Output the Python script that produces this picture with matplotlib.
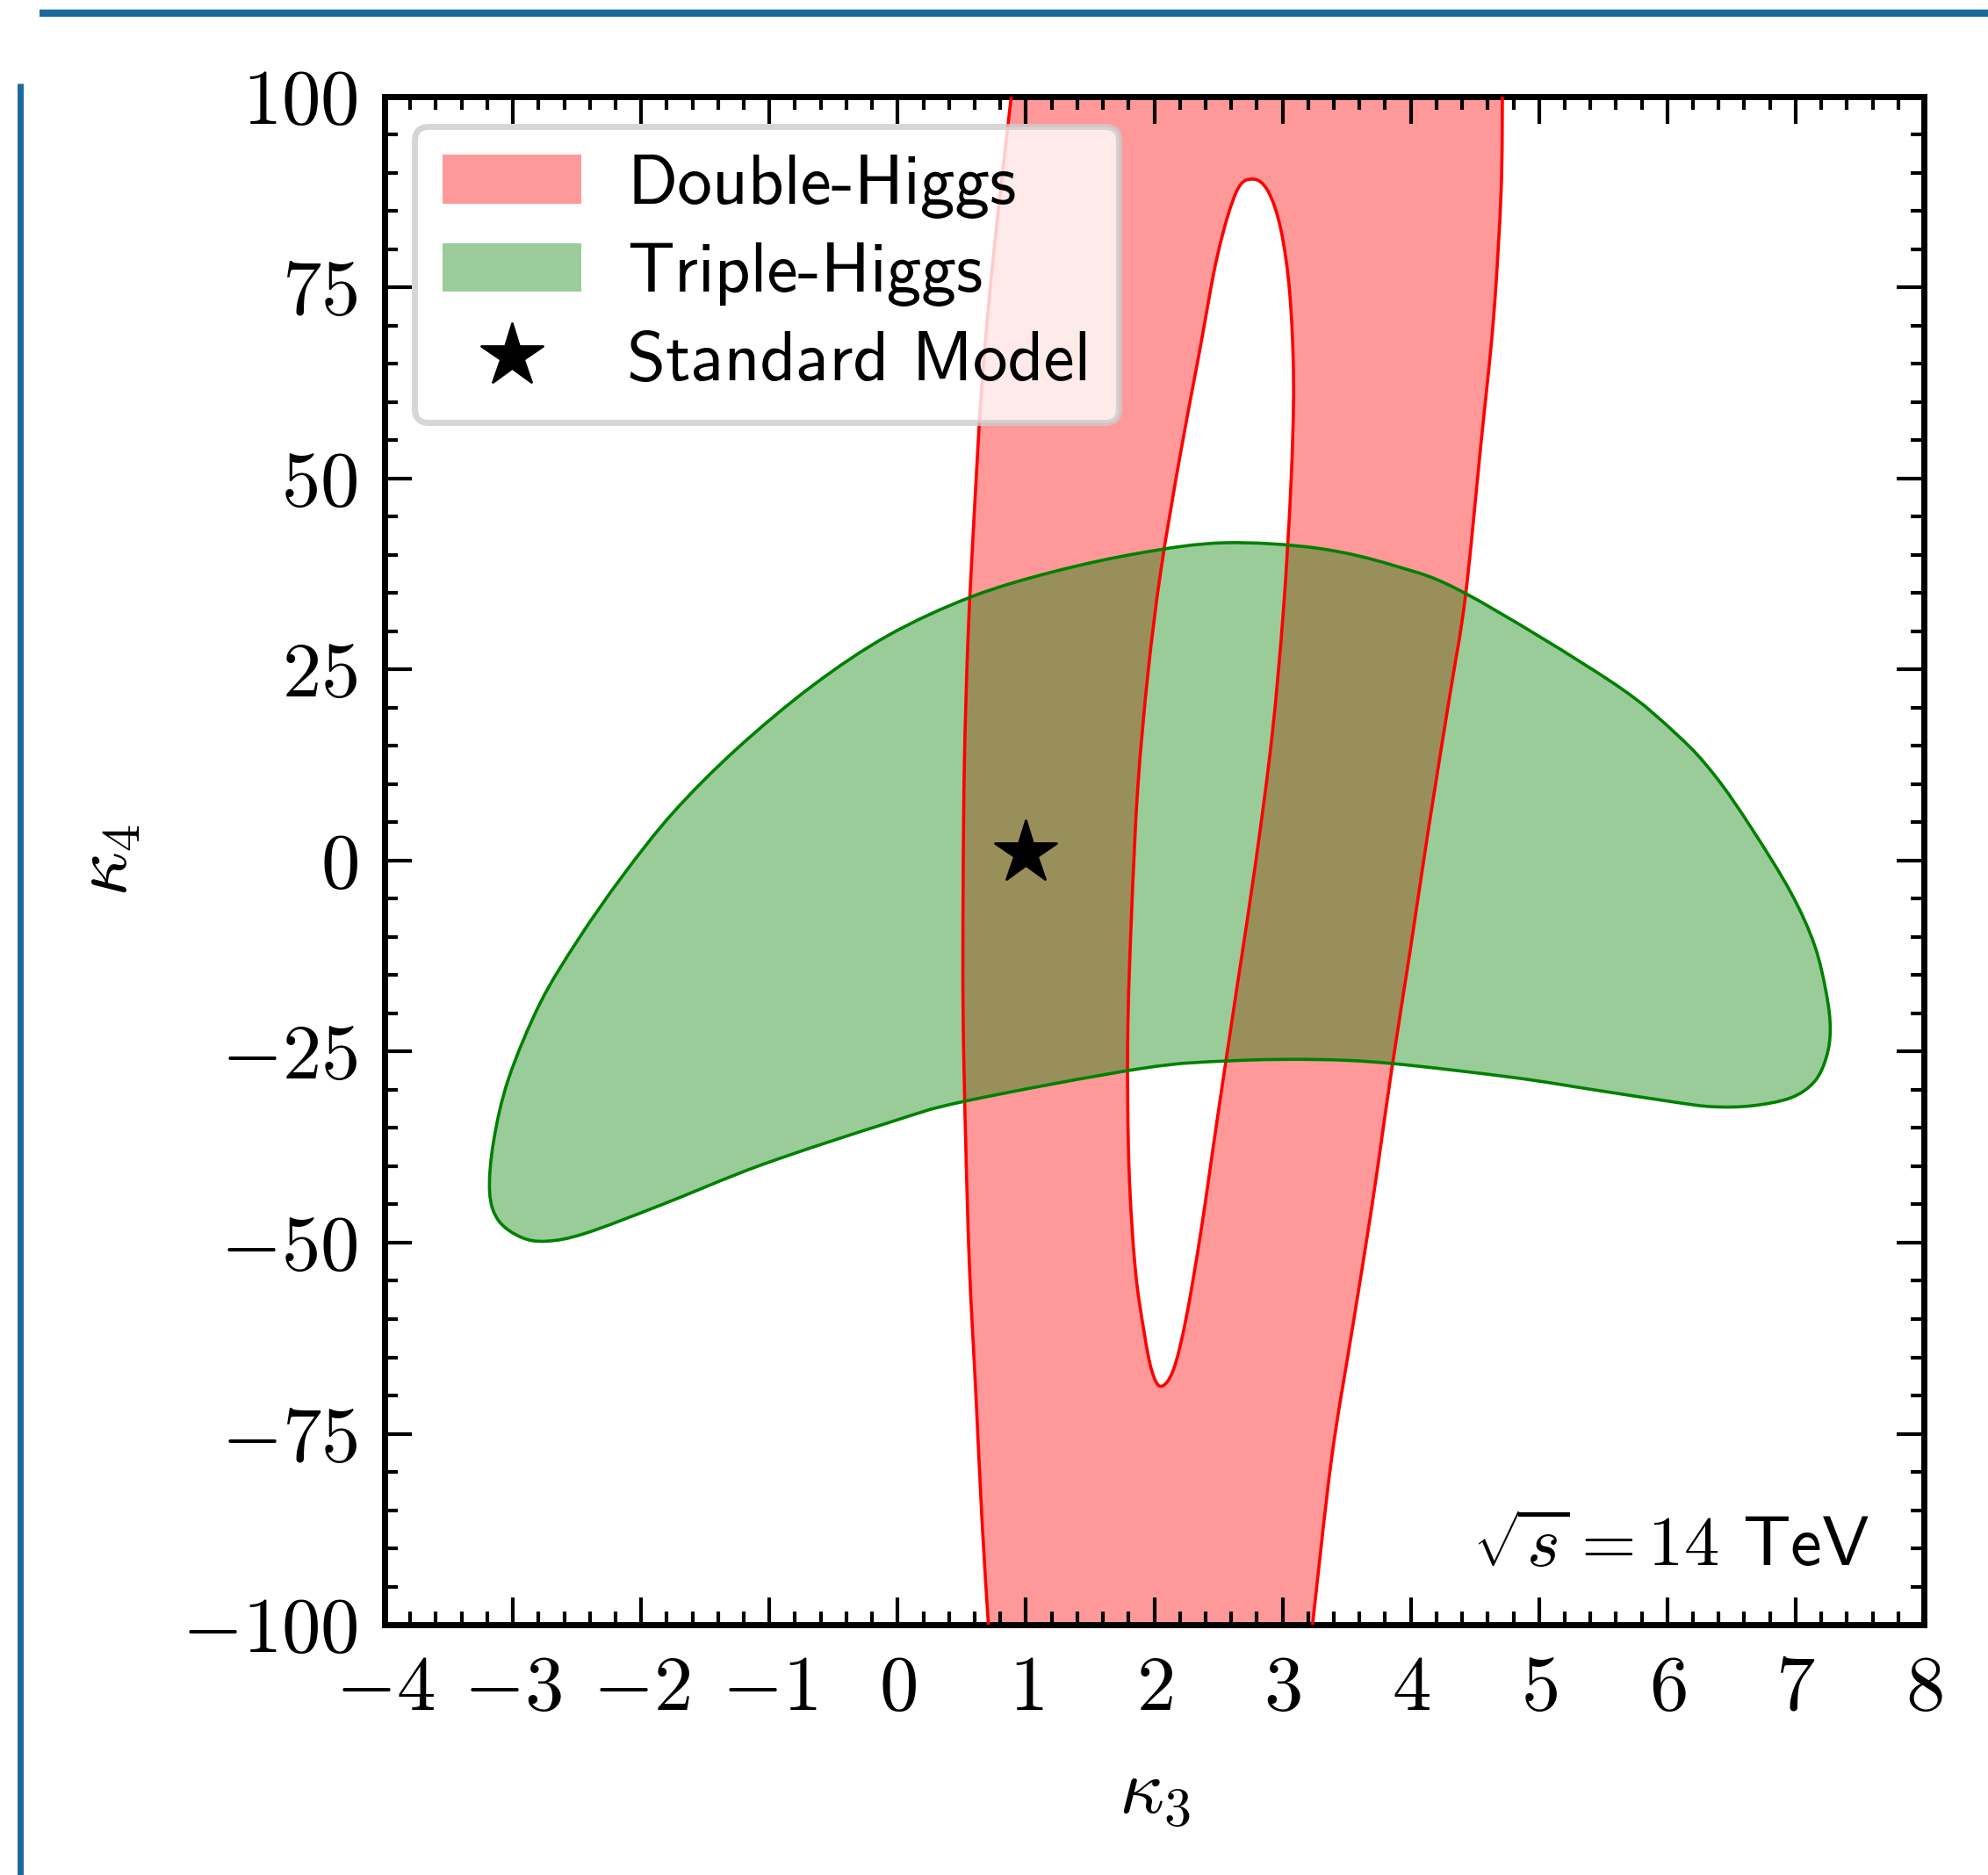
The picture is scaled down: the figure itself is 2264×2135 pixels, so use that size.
import numpy as np
import matplotlib
matplotlib.use('Agg')
import matplotlib.pyplot as plt
from matplotlib.path import Path
from matplotlib.patches import PathPatch
from matplotlib.lines import Line2D
from matplotlib.markers import MarkerStyle
from matplotlib.ticker import MultipleLocator, FuncFormatter

plt.rcParams['mathtext.fontset'] = 'cm'
plt.rcParams['font.family'] = ['cmss10', 'DejaVu Sans']

# ---------------- data ----------------
# Double-Higgs allowed band: outer left / right boundaries (top -> bottom)
dh_left_x = [0.885, 0.747, 0.658, 0.599, 0.549, 0.520, 0.510, 0.510, 0.530, 0.560, 0.610, 0.658, 0.707]
dh_left_y = [100.0, 79.3, 62.7, 46.1, 29.5, 12.9, -3.6, -20.2, -36.8, -53.4, -70.0, -86.6, -100.0]
dh_right_x = [4.714, 4.704, 4.645, 4.546, 4.425, 4.300, 4.142, 3.994, 3.855, 3.698, 3.540, 3.382, 3.234]
dh_right_y = [100.0, 87.6, 71.0, 54.4, 34.5, 21.2, 4.6, -11.9, -26.9, -45.1, -61.7, -78.3, -100.0]
# Double-Higgs excluded hole (closed curve)
dh_hole_x = [2.770, 2.642, 2.494, 2.346, 2.198, 2.050, 1.951, 1.872, 1.823, 1.793, 1.803, 1.852,
             1.921, 1.980, 2.050, 2.148, 2.247, 2.365, 2.494, 2.642, 2.790, 2.918, 3.007, 3.066,
             3.086, 3.056, 2.987, 2.888]
dh_hole_y = [89.2, 87.6, 79.3, 66.0, 52.7, 37.8, 24.5, 9.6, -7.0, -23.5, -40.1, -53.4,
             -61.7, -66.7, -68.8, -66.7, -60.0, -48.4, -33.5, -16.9, -0.3, 16.3, 32.8, 49.4,
             62.7, 74.3, 82.6, 87.6]
# Triple-Higgs allowed region (closed curve)
th_x = [-2.737, -2.934, -3.112, -3.181, -3.151, -3.033, -2.786, -2.490, -2.145, -1.750, -1.257,
        -0.664, -0.072, 0.569, 1.210, 1.900, 2.543, 3.269, 3.884, 4.439, 5.577, 6.080,
        6.370, 6.655, 6.962, 7.146, 7.239, 7.270, 7.239, 7.146, 6.962, 6.655, 6.347, 6.039,
        5.423, 4.807, 3.853, 3.269, 2.590, 1.900, 0.520, -0.072, -1.059, -1.850, -2.440]
th_y = [-49.8, -49.3, -47.1, -43.4, -36.8, -28.5, -18.6, -10.3, -2.0, 6.3, 14.6,
        22.9, 29.5, 34.5, 37.8, 40.3, 41.6, 40.9, 38.55, 34.86, 23.26, 16.41,
        11.14, 4.28, -4.15, -11.0, -17.33, -22.07, -25.76, -28.93, -31.04, -32.09, -32.2, -31.56,
        -29.98, -28.4, -26.55, -26.03, -26.2, -27.2, -31.5, -34.3, -39.8, -45.1, -48.8]
# Standard Model point
sm_k3 = [1.0]
sm_k4 = [1.0]

x_ticks = [-4, -3, -2, -1, 0, 1, 2, 3, 4, 5, 6, 7, 8]
y_ticks = [-100, -75, -50, -25, 0, 25, 50, 75, 100]
labels = ['Double-Higgs', 'Triple-Higgs', 'Standard Model']


# ---------------- helpers: draw smooth curves through the read points ----------------
def bezier_segments(pts, closed):
    pts = np.asarray(pts, float)
    n = len(pts)
    if closed:
        ext = np.vstack([pts[-1:], pts, pts[:2]])
        nseg = n
    else:
        ext = np.vstack([pts[:1], pts, pts[-1:]])
        nseg = n - 1
    verts = [ext[1]]
    codes = [Path.MOVETO]
    for i in range(nseg):
        p0, p1, p2, p3 = ext[i], ext[i + 1], ext[i + 2], ext[i + 3]
        c1 = p1 + (p2 - p0) / 6.0
        c2 = p2 - (p3 - p1) / 6.0
        verts += [c1, c2, p2]
        codes += [Path.CURVE4] * 3
    return verts, codes


fig = plt.figure(figsize=(22.64, 21.35), dpi=100)
ax = fig.add_axes([438 / 2264, 1 - 1850 / 2135, (2191 - 438) / 2264, (1850 - 110) / 2135])

# Double-Higgs band
lv, lc = bezier_segments(list(zip(dh_left_x, dh_left_y)), False)
rv, rc = bezier_segments(list(zip(dh_right_x[::-1], dh_right_y[::-1])), False)
hv, hc = bezier_segments(list(zip(dh_hole_x[::-1], dh_hole_y[::-1])), True)
outer_v = lv + rv[0:1] + rv[1:] + [lv[0]]
outer_c = lc + [Path.LINETO] + rc[1:] + [Path.CLOSEPOLY]
band_path = Path(np.array(outer_v + hv + [hv[0]]), outer_c + hc + [Path.CLOSEPOLY])
red_fill = PathPatch(band_path, facecolor='red', edgecolor='none', alpha=0.4,
                     label=labels[0], zorder=1)
ax.add_patch(red_fill)

# Triple-Higgs region
tv, tc = bezier_segments(list(zip(th_x, th_y)), True)
th_path = Path(np.array(tv + [tv[0]]), tc + [Path.CLOSEPOLY])
green_fill = PathPatch(th_path, facecolor='green', edgecolor='none', alpha=0.4,
                       label=labels[1], zorder=2)
ax.add_patch(green_fill)

# contour lines on top
lw_c = 2.6
for v, c, col in [(lv, lc, 'red'), (rv, rc, 'red'), (hv + [hv[0]], hc + [Path.CLOSEPOLY], 'red'),
                  (tv + [tv[0]], tc + [Path.CLOSEPOLY], 'green')]:
    ax.add_patch(PathPatch(Path(np.array(v), c), facecolor='none', edgecolor=col,
                           lw=lw_c, zorder=3))

star = MarkerStyle('*', joinstyle='round')
sm_line, = ax.plot(sm_k3, sm_k4, ls='none', marker=star, ms=53, color='black',
                   mew=2, label=labels[2], zorder=5)

ax.set_xlim(-4, 8)
ax.set_ylim(-100, 100)
ax.set_xticks(x_ticks)
ax.set_yticks(y_ticks)
ax.xaxis.set_minor_locator(MultipleLocator(0.2))
ax.yaxis.set_minor_locator(MultipleLocator(5))
fmt = FuncFormatter(lambda v, p: r'$%d$' % int(round(v)))
ax.xaxis.set_major_formatter(fmt)
ax.yaxis.set_major_formatter(fmt)
ax.tick_params(which='both', direction='in', top=True, right=True, width=3)
ax.tick_params(which='major', length=22, labelsize=64)
ax.tick_params(which='minor', length=11)
ax.tick_params(axis='x', which='major', pad=25)
ax.tick_params(axis='y', which='major', pad=22)
for s in ax.spines.values():
    s.set_linewidth(5)

ax.set_xlabel(r'$\kappa_3$', fontsize=64, labelpad=28)
ax.set_ylabel(r'$\kappa_4$', fontsize=64, labelpad=32)

ax.text(0.965, 0.029, r'$\sqrt{s} = 14$ TeV', transform=ax.transAxes,
        ha='right', va='bottom', fontsize=58)

leg = ax.legend(handles=[red_fill, green_fill, sm_line], loc='upper left', fontsize=57,
                frameon=True, framealpha=0.8, edgecolor='0.8', fancybox=True,
                handlelength=2.0, handleheight=0.7, labelspacing=0.35, handletextpad=0.66,
                borderpad=0.4, borderaxespad=0.43)
leg.get_frame().set_linewidth(5)
leg.set_zorder(10)

# page border lines visible in the reference screenshot
fig.add_artist(Line2D([45 / 2264, 1.0], [1 - 15 / 2135] * 2, transform=fig.transFigure,
                      color='#1b6a9e', lw=6, solid_capstyle='butt'))
fig.add_artist(Line2D([23 / 2264] * 2, [0.0, 1 - 95 / 2135], transform=fig.transFigure,
                      color='#1b6a9e', lw=5, solid_capstyle='butt'))

fig.savefig('out.png', dpi=100)
